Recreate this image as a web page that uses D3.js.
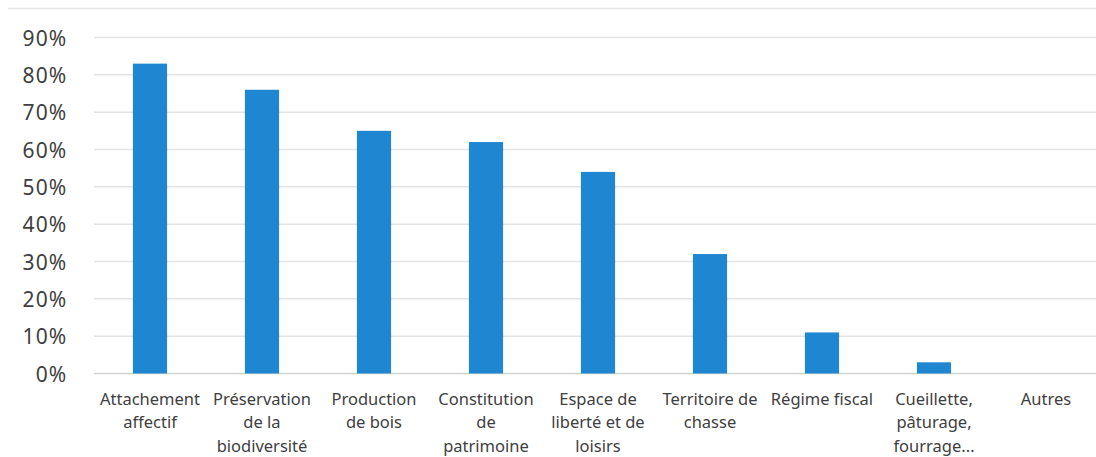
<!DOCTYPE html>
<html>
<head>
<meta charset="utf-8">
<script src="https://cdn.jsdelivr.net/npm/d3@7"></script>
<style>
  html, body { margin: 0; padding: 0; background: #fff; }
  svg { display: block; }
</style>
</head>
<body>
<svg id="chart" width="1096" height="457"></svg>
<script>
const categories = [
  "Attachement affectif",
  "Préservation de la biodiversité",
  "Production de bois",
  "Constitution de patrimoine",
  "Espace de liberté et de loisirs",
  "Territoire de chasse",
  "Régime fiscal",
  "Cueillette, pâturage, fourrage...",
  "Autres"
];
const labelLines = [
  ["Attachement", "affectif"],
  ["Préservation", "de la", "biodiversité"],
  ["Production", "de bois"],
  ["Constitution", "de", "patrimoine"],
  ["Espace de", "liberté et de", "loisirs"],
  ["Territoire de", "chasse"],
  ["Régime fiscal"],
  ["Cueillette,", "pâturage,", "fourrage..."],
  ["Autres"]
];
const values = [0.83, 0.76, 0.65, 0.62, 0.54, 0.32, 0.11, 0.03, 0.00];
const yTicks = [0, 0.1, 0.2, 0.3, 0.4, 0.5, 0.6, 0.7, 0.8, 0.9];

const svg = d3.select("#chart");
const font = "'Noto Sans', 'Open Sans', sans-serif";

const x = d3.scaleBand().domain(categories).range([94, 1102]).paddingInner(0.695).paddingOuter(0.3475);
const y = d3.scaleLinear().domain([0, 0.9]).range([373.5, 37.5]);

// top border
svg.append("line").attr("x1", 8).attr("x2", 1096).attr("y1", 8.5).attr("y2", 8.5)
  .attr("stroke", "#e6e6e6").attr("stroke-width", 1.5);

// gridlines
svg.append("g").selectAll("line").data(yTicks).join("line")
  .attr("x1", 94).attr("x2", 1096)
  .attr("y1", d => y(d)).attr("y2", d => y(d))
  .attr("stroke", d => d === 0 ? "#d4d4d4" : "#e3e3e3")
  .attr("stroke-width", 1.5);

// y axis labels
const yAxis = d3.axisLeft(y).tickValues(yTicks).tickFormat(d3.format(".0%")).tickSize(0).tickPadding(0);
const ya = svg.append("g").attr("transform", "translate(67.5,0)").call(yAxis);
ya.select(".domain").remove();
ya.selectAll("text").attr("font-family", font).attr("font-size", 21).attr("fill", "#404040")
  .attr("dy", "0.36em").attr("letter-spacing", 1.2);

// bars
svg.append("g").selectAll("rect").data(values).join("rect")
  .attr("x", (d, i) => x(categories[i]))
  .attr("width", x.bandwidth())
  .attr("y", d => y(d))
  .attr("height", d => y(0) - y(d))
  .attr("fill", "#1f87d1");

// x labels
const xl = svg.append("g").selectAll("text").data(categories).join("text")
  .attr("x", d => x(d) + x.bandwidth() / 2)
  .attr("y", 404.5)
  .attr("text-anchor", "middle")
  .attr("font-family", font)
  .attr("font-size", 16.5)
  .attr("fill", "#404040");
xl.each(function(d, i) {
  const t = d3.select(this);
  labelLines[i].forEach((ln, j) => {
    t.append("tspan").attr("x", x(d) + x.bandwidth() / 2).attr("dy", j === 0 ? 0 : 23.5).text(ln);
  });
});
</script>
</body>
</html>
